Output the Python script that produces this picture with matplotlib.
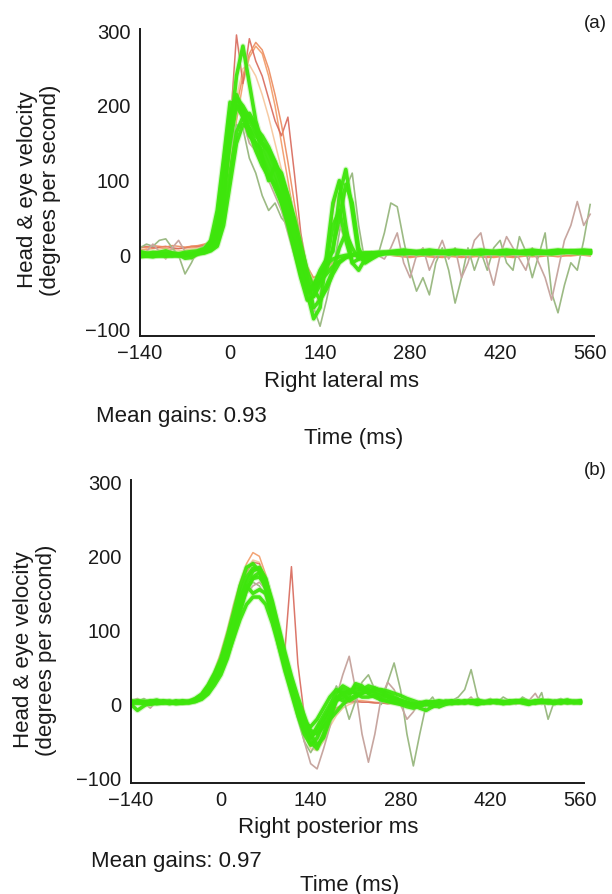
import matplotlib
matplotlib.use("Agg")
import matplotlib.pyplot as plt

plt.rcParams["font.family"] = ["Liberation Sans", "DejaVu Sans"]

# sample times shared by every trace (ms)
time_ms = list(range(-140, 561, 10))

x_ticks = [-140, 0, 140, 280, 420, 560]
y_ticks = [-100, 0, 100, 200, 300]

# ---------------- panel (a): right lateral ----------------
a_head_1 = [8, 8, 9, 10, 9, 8, 9, 10, 10, 11,
            12, 15, 25, 60, 120, 180, 230, 265, 280, 270,
            240, 200, 150, 100, 50, 10, -20, -35, -30, -20,
            -12, -8, -4, -2, 0, 1, 2, 2, 2, 1,
            0, -1, -2, -1, 0, -1, -2, -3, -2, -1,
            -2, -3, -2, -1, -2, -3, -2, -1, -2, -1,
            0, -1, -2, -1, 0, 1, 0, -1, 0, 1,
            0]
a_head_2 = [5, 6, 5, 7, 6, 5, 6, 7, 8, 9,
            10, 14, 22, 55, 130, 210, 250, 255, 240, 215,
            185, 150, 115, 75, 35, 0, -25, -30, -25, -15,
            -8, -5, -2, 0, 0, 1, 1, 1, 1, 0,
            -1, -2, -1, 0, -1, -2, -1, 0, -1, -2,
            -1, 0, -1, -2, -1, 0, -1, -2, -1, 0,
            -1, 0, 1, 0, -1, 0, 1, 0, 1, 2,
            1]
a_head_3 = [10, 12, 10, 11, 12, 10, 9, 10, 12, 12,
            14, 18, 30, 80, 170, 295, 230, 290, 260, 240,
            210, 180, 160, 185, 110, 30, -20, -40, -35, -10,
            60, 100, 30, -10, -5, 0, 1, 2, 2, 2,
            1, 0, -1, 0, 1, 0, -1, 0, 1, 0,
            -1, 0, 1, 0, -1, 0, 1, 0, -1, 0,
            1, 0, -1, 0, 1, 2, 1, 0, 1, 2,
            1]
a_head_4 = [12, 10, 13, 12, 11, 13, 12, 11, 12, 13,
            15, 18, 28, 65, 140, 200, 240, 270, 285, 275,
            250, 215, 175, 125, 70, 20, -15, -30, -25, -15,
            -10, -5, -3, 0, 0, 1, 1, 1, 1, 0,
            -1, -2, -3, -2, -1, -2, -3, -2, -1, -2,
            -3, -2, -1, -2, -3, -2, -1, -2, -3, -2,
            -1, -2, -1, 0, -1, -2, -1, 0, 1, 0,
            -1]

a_eye_1 = [0, -1, 0, 1, 0, -1, 0, 1, 2, 3,
           5, 10, 25, 80, 150, 200, 195, 180, 165, 150,
           130, 110, 85, 55, 20, -15, -40, -45, -35, -25,
           -15, -8, -3, 0, 2, 3, 3, 4, 4, 4,
           5, 4, 3, 4, 5, 4, 3, 4, 5, 4,
           3, 4, 5, 4, 4, 3, 4, 5, 4, 3,
           4, 5, 4, 3, 4, 5, 4, 5, 6, 5,
           5]
a_eye_2 = [-2, -1, -2, 0, -1, 0, 1, 0, 2, 4,
           8, 20, 60, 130, 205, 200, 185, 160, 150, 140,
           120, 100, 70, 40, 5, -30, -60, -55, -30, -10,
           40, 60, 20, -10, -5, 0, 2, 3, 3, 3,
           2, 3, 4, 3, 2, 3, 4, 3, 2, 3,
           4, 3, 2, 3, 4, 3, 2, 3, 4, 3,
           2, 3, 4, 3, 2, 3, 4, 5, 4, 3,
           4]
a_eye_3 = [1, 0, -1, 0, 1, 0, -1, 0, 1, 2,
           4, 7, 15, 50, 110, 165, 185, 190, 175, 130,
           100, 120, 110, 80, 45, 5, -30, -70, -60, -40,
           -20, 10, 30, 10, -5, -3, 0, 2, 3, 3,
           4, 3, 5, 4, 3, 5, 4, 3, 4, 5,
           3, 4, 5, 3, 4, 5, 3, 4, 5, 4,
           3, 5, 4, 3, 5, 4, 5, 6, 5, 4,
           5]
a_eye_4 = [0, 1, 0, -1, 0, 1, 0, 0, 1, 3,
           6, 12, 35, 100, 170, 210, 200, 185, 170, 160,
           145, 125, 100, 70, 35, 0, -50, -85, -70, 0,
           70, 100, 40, -10, -20, -5, 0, 2, 3, 4,
           3, 5, 4, 2, 4, 5, 3, 4, 2, 4,
           5, 3, 4, 2, 4, 5, 3, 4, 5, 3,
           4, 2, 4, 5, 3, 4, 5, 4, 5, 4,
           3]
a_eye_5 = [2, 1, 0, 1, 2, 1, 0, 1, 2, 3,
           5, 9, 20, 70, 160, 240, 280, 230, 180, 150,
           140, 120, 95, 60, 20, -20, -45, -40, -20, -5,
           5, 80, 115, 60, 0, -10, -5, 0, 2, 3,
           4, 5, 4, 3, 4, 5, 4, 3, 4, 5,
           4, 3, 4, 5, 4, 3, 4, 5, 4, 3,
           4, 5, 4, 3, 4, 5, 6, 5, 4, 5,
           4]
a_eye_6 = [5, 3, 2, 4, 6, 3, 1, -4, -3, 2,
           6, 14, 40, 110, 185, 205, 190, 170, 150, 130,
           110, 90, 70, 45, 10, -25, -50, -40, -25, -12,
           -5, -2, 0, 1, 2, 3, 3, 2, 3, 4,
           3, 2, 3, 4, 3, 2, 3, 4, 3, 2,
           3, 4, 3, 2, 3, 4, 3, 2, 3, 4,
           3, 2, 3, 4, 3, 4, 5, 4, 3, 4,
           3]
a_eye_7 = [-1, 0, 1, 0, -1, 0, 1, 2, 1, 2,
           3, 6, 12, 40, 95, 150, 175, 170, 160, 150,
           140, 125, 105, 80, 50, 15, -20, -45, -60, -45,
           -25, -10, -3, 0, 1, 2, 3, 3, 4, 3,
           4, 5, 3, 4, 5, 3, 4, 5, 3, 4,
           5, 3, 4, 5, 3, 4, 5, 4, 3, 4,
           5, 4, 3, 4, 5, 6, 4, 5, 6, 5,
           6]
a_eye_8 = [3, 2, 4, 3, 2, 3, 2, 4, 5, 6,
           9, 18, 45, 115, 190, 215, 195, 165, 140, 120,
           105, 95, 80, 60, 30, -5, -35, -55, -40, -20,
           10, 50, 95, 70, 10, -10, -3, 1, 3, 5,
           6, 7, 6, 5, 6, 7, 6, 5, 6, 7,
           6, 5, 6, 7, 6, 5, 6, 7, 6, 5,
           6, 7, 6, 5, 6, 7, 6, 5, 6, 7,
           6]

a_stray_1 = [10, 15, 12, 20, 22, 10, 0, -25, -10, 8,
             12, 20, 40, 90, 140, 175, 170, 130, 110, 80,
             60, 70, 50, 40, 20, -10, -40, -70, -95, -60,
             -20, 30, 90, 110, 40, -10, -5, 0, 30, 70,
             65, 20, -20, -48, -30, -53, -10, 10, -20, -64,
             -30, 10, -20, 5, -20, 10, 20, -10, -20, 25,
             5, -30, 0, 30, -50, -77, -40, -10, -20, 20,
             68]
a_stray_2 = [0, 5, 15, 5, -5, 10, 20, 5, -5, 0,
             5, 15, 40, 110, 190, 210, 180, 150, 140, 120,
             100, 80, 60, 30, 0, -30, -60, -75, -50, -20,
             10, 40, 20, -10, -5, 0, 5, 0, -5, 10,
             30, -10, -30, 0, 10, -20, 0, 20, -5, 10,
             -30, -10, 20, 30, -10, -40, 0, 25, 10, -5,
             -20, 10, -10, -30, -60, -20, 20, 40, 72, 40,
             55]

# ---------------- panel (b): right posterior ----------------
b_head_1 = [4, 3, 5, 4, 3, 4, 5, 4, 5, 6,
            8, 15, 28, 45, 70, 100, 135, 165, 190, 205,
            200, 175, 140, 100, 60, 25, -5, -35, -55, -60,
            -45, -25, -10, 0, 5, 6, 5, 4, 3, 2,
            2, 1, 2, 1, 2, 1, 2, 1, 2, 1,
            2, 1, 2, 1, 2, 1, 2, 1, 2, 1,
            2, 1, 2, 1, 2, 1, 2, 1, 2, 1,
            2]
b_head_2 = [3, 4, 3, 5, 4, 3, 4, 5, 4, 5,
            7, 13, 25, 42, 66, 96, 130, 160, 182, 195,
            192, 170, 135, 95, 58, 22, -10, -40, -60, -62,
            -50, -30, -15, -5, 0, 3, 4, 3, 2, 2,
            1, 2, 1, 0, 1, 2, 1, 0, 1, 2,
            1, 0, 1, 2, 1, 0, 1, 2, 1, 0,
            1, 2, 1, 0, 1, 2, 1, 0, 1, 2,
            1]
b_head_3 = [3, 4, 3, 4, 5, 4, 3, 4, 5, 4,
            6, 12, 22, 38, 60, 90, 125, 155, 178, 192,
            190, 170, 135, 100, 75, 186, 55, -15, -45, -55,
            -40, -20, -5, 0, 3, 4, 3, 3, 2, 2,
            1, 2, 3, 2, 1, 2, 3, 2, 1, 2,
            3, 2, 1, 2, 3, 2, 1, 2, 3, 2,
            1, 2, 3, 2, 1, 2, 3, 2, 1, 2,
            3]

b_eye_1 = [3, 2, 4, 3, 2, 3, 4, 2, 3, 4,
           5, 10, 20, 35, 50, 75, 105, 140, 165, 180,
           185, 170, 135, 95, 60, 30, 5, -20, -35, -40,
           -30, -20, -10, 0, 8, 12, 15, 18, 20, 20,
           18, 15, 12, 8, 5, 2, 0, -2, -3, 0,
           2, 3, 2, 4, 3, 2, 3, 4, 2, 3,
           4, 3, 2, 4, 3, 5, 3, 4, 3, 4,
           3]
b_eye_2 = [5, 3, 1, 4, 6, 3, 2, 5, 3, 2,
           4, 7, 14, 26, 40, 62, 92, 125, 155, 172,
           178, 168, 140, 105, 70, 38, 10, -15, -40, -55,
           -45, -20, 5, 20, 15, 25, 20, 15, 22, 18,
           12, 8, 5, 3, 0, -5, -8, -3, 2, 4,
           3, 5, 2, 4, 6, 3, 2, 5, 3, 2,
           4, 6, 3, 2, 5, 3, 4, 2, 5, 3,
           4]
b_eye_3 = [1, 3, 2, 0, 2, 4, 3, 1, 2, 3,
           6, 12, 24, 40, 58, 85, 115, 145, 160, 150,
           155, 150, 120, 85, 50, 20, -10, -35, -45, -30,
           -15, 0, 15, 25, 20, 15, 10, 10, 12, 8,
           5, 3, 2, 0, -2, 0, 2, 3, 2, 4,
           3, 2, 4, 5, 3, 2, 4, 3, 2, 4,
           3, 5, 4, 2, 3, 5, 3, 4, 2, 3,
           2]
b_eye_4 = [2, 4, 3, 5, 3, 2, 4, 3, 5, 4,
           8, 14, 26, 42, 62, 92, 125, 160, 185, 190,
           180, 155, 120, 80, 45, 15, -15, -40, -55, -45,
           -25, -10, 5, 10, 18, 15, 20, 25, 22, 18,
           15, 10, 6, 3, 0, -2, 0, 3, 2, 4,
           5, 3, 4, 2, 5, 4, 3, 5, 4, 3,
           5, 4, 3, 5, 4, 3, 4, 5, 3, 4,
           5]
b_eye_5 = [4, 2, 3, 2, 4, 3, 1, 3, 2, 3,
           4, 8, 16, 30, 45, 65, 90, 115, 135, 145,
           145, 135, 110, 80, 50, 25, 0, -25, -30, -20,
           -5, 10, 20, 15, 5, 10, 15, 20, 15, 12,
           10, 6, 3, 1, 0, 2, 4, 3, 2, 3,
           4, 2, 3, 4, 2, 3, 5, 4, 3, 2,
           3, 4, 2, 3, 4, 5, 3, 2, 4, 3,
           4]
b_eye_6 = [3, 5, 4, 2, 3, 5, 4, 2, 4, 3,
           6, 11, 22, 38, 55, 80, 112, 148, 172, 184,
           182, 162, 128, 90, 55, 25, -5, -30, -45, -35,
           -20, -5, 8, 15, 18, 20, 22, 20, 17, 14,
           10, 7, 4, 2, 0, 1, 3, 2, 4, 3,
           2, 4, 3, 5, 2, 3, 4, 2, 3, 5,
           4, 3, 2, 4, 3, 2, 4, 3, 5, 4,
           3]
b_eye_7 = [0, -8, -2, 3, 1, 2, 4, 3, 2, 4,
           6, 10, 20, 33, 50, 72, 100, 130, 155, 170,
           172, 160, 132, 100, 65, 32, 0, -28, -50, -60,
           -40, -15, 10, 5, 12, 28, 25, 15, 10, 6,
           4, 2, 0, -3, -5, -2, 1, 3, 5, 3,
           1, 3, 5, 2, 0, 3, 5, 4, 1, 3,
           5, 2, 0, 4, 6, 3, 1, 4, 6, 2,
           3]

b_stray_1 = [5, 8, 2, -5, 4, 6, 3, 5, 2, 4,
             6, 10, 18, 30, 45, 70, 100, 130, 150, 160,
             165, 155, 130, 100, 65, 30, -10, -50, -80, -87,
             -60, -30, 10, 40, 65, 20, -40, -78, -40, 10,
             30, 20, 0, -20, -10, 5, 0, -5, 5, 0,
             2, 5, 3, 10, 0, 4, 8, 2, 5, 3,
             4, 2, 5, 15, 0, 3, 4, 2, 5, 3,
             4]
b_stray_2 = [2, 4, 8, 3, 2, 5, 2, 4, 6, 3,
             5, 9, 18, 32, 48, 72, 102, 132, 155, 165,
             160, 145, 115, 80, 45, 15, -20, -50, -65, -50,
             -30, 0, 25, 10, -20, 5, 30, 40, 20, 0,
             30, 56, 20, -40, -83, -40, 0, 10, -5, 0,
             5, 10, 20, 47, 10, 0, 5, 2, 10, 5,
             0, 10, 5, 0, 16, -20, 5, 8, 3, 5,
             4]

head_colors = ["#f29a66", "#f6c59a", "#d8685a", "#ec8a5c"]
stray_colors = ["#9cba84", "#c7a6a0"]
eye_color = "#3ee60c"
ink = "#1a1a1a"


def draw_panel(ax, heads, eyes, strays):
    for trace, col in zip(heads, head_colors):
        ax.plot(time_ms, trace, color=col, lw=1.1, alpha=0.9)
    for trace, col in zip(strays, stray_colors):
        ax.plot(time_ms, trace, color=col, lw=1.2)
    for trace in eyes:
        ax.plot(time_ms, trace, color="#8fea6a", lw=4.2, alpha=0.35,
                solid_capstyle="round")
    for trace in eyes:
        ax.plot(time_ms, trace, color=eye_color, lw=2.6, alpha=0.95)

    ax.set_xticks(x_ticks)
    ax.set_yticks(y_ticks)
    ax.spines["top"].set_visible(False)
    ax.spines["right"].set_visible(False)
    for side in ("left", "bottom"):
        ax.spines[side].set_linewidth(1.4)
        ax.spines[side].set_color(ink)
    ax.tick_params(length=0, labelsize=14.5, colors=ink)
    ax.tick_params(axis="y", pad=7)
    ax.tick_params(axis="x", pad=6)


fig = plt.figure(figsize=(6.12, 8.94), dpi=100)

ax_a = fig.add_axes([0.2288, 0.6242, 0.7418, 0.3434])
draw_panel(ax_a,
           [a_head_1, a_head_2, a_head_3, a_head_4],
           [a_eye_1, a_eye_2, a_eye_3, a_eye_4, a_eye_5, a_eye_6, a_eye_7,
            a_eye_8],
           [a_stray_1, a_stray_2])
ax_a.set_xlim(-140, 566)
ax_a.set_ylim(-108, 303)

ax_b = fig.add_axes([0.2141, 0.1242, 0.7402, 0.3389])
draw_panel(ax_b,
           [b_head_1, b_head_2, b_head_3],
           [b_eye_1, b_eye_2, b_eye_3, b_eye_4, b_eye_5, b_eye_6, b_eye_7],
           [b_stray_2, b_stray_1])
ax_b.set_xlim(-140, 566)
ax_b.set_ylim(-106, 303)


def px(x, y):
    return x / 612, 1 - y / 894


def label(x, y, s, **kw):
    opts = dict(ha="center", va="center", fontsize=16, color=ink)
    opts.update(kw)
    fig.text(*px(x, y), s, **opts)


ylab = "Head & eye velocity\n(degrees per second)"
label(39, 190, ylab, rotation=90, multialignment="center", linespacing=1.15)
label(35, 650, ylab, rotation=90, multialignment="center", linespacing=1.15)

label(595, 24, "(a)", fontsize=13.5)
label(595, 470, "(b)", fontsize=13.5)

label(341, 382, "Right lateral ms")
label(96, 417, "Mean gains: 0.93", ha="left")
label(354, 438, "Time (ms)")

label(328, 828, "Right posterior ms")
label(91, 862, "Mean gains: 0.97", ha="left")
label(350, 885, "Time (ms)")

fig.savefig("out.png", dpi=100)
